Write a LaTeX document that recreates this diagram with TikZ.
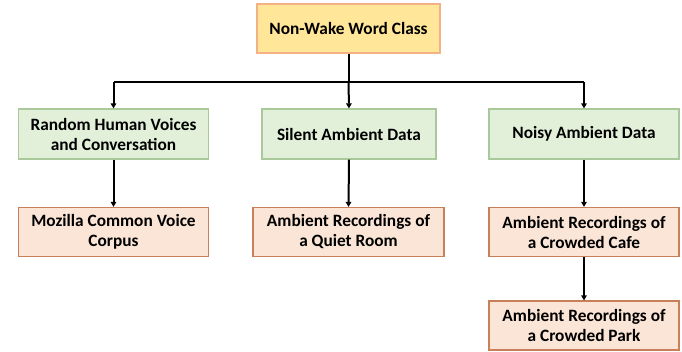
\documentclass[tikz,border=0pt]{standalone}
\usepackage{fontspec}
\setmainfont{Carlito}
\usetikzlibrary{arrows.meta}
\definecolor{topfill}{HTML}{FFE699}
\definecolor{topdraw}{HTML}{F4B183}
\definecolor{gfill}{HTML}{E2F0D9}
\definecolor{gdraw}{HTML}{A9C99A}
\definecolor{ofill}{HTML}{FBE5D6}
\definecolor{odraw}{HTML}{C9805A}
\begin{document}
\begin{tikzpicture}[x=1pt,y=-1pt,
  base/.style={rectangle, line width=1.2pt, align=center, inner sep=0pt,
    font=\fontsize{17.3}{20}\selectfont\bfseries, text=black},
  topbox/.style={base, fill=topfill, draw=topdraw, minimum width=183pt, minimum height=49pt},
  gbox/.style={base, fill=gfill, draw=gdraw, minimum height=50pt},
  obox/.style={base, fill=ofill, draw=odraw, minimum height=49pt},
  conn/.style={line width=2pt, black},
  arr/.style={conn, -{Triangle[length=5pt,width=5.5pt]}}]
\useasboundingbox (0,0) rectangle (682,352);
\node[topbox] (top) at (348.5,28.5) {Non-Wake Word Class};
\node[gbox, minimum width=190pt] (gL) at (113.5,134) {Random Human Voices\\and Conversation};
\node[gbox, minimum width=174pt] (gM) at (349,134) {Silent Ambient Data};
\node[gbox, minimum width=190pt] (gR) at (584,134) {Noisy Ambient Data};
\node[obox, minimum width=190pt] (oL) at (113.5,232) {Mozilla Common Voice\\Corpus};
\node[obox, minimum width=191pt] (oM) at (348.5,232) {Ambient Recordings of\\a Quiet Room};
\node[obox, minimum width=190pt] (oR) at (584,232) {Ambient Recordings of\\a Crowded Cafe};
\node[obox, minimum width=190pt] (oR2) at (584,325.5) {Ambient Recordings of\\a Crowded Park};
\coordinate (jL) at (gL.north |- 0,82);
\coordinate (jM) at (top.south |- 0,82);
\coordinate (jR) at (gR.north |- 0,82);
\draw[conn] (top.south) -- (jM);
\draw[conn] (jL) -- (jR);
\draw[arr] (jL) -- (gL.north);
\draw[arr] (jM) -- (gM.north);
\draw[arr] (jR) -- (gR.north);
\draw[arr] (gL.south) -- (oL.north);
\draw[arr] (gM.south) -- (oM.north);
\draw[arr] (gR.south) -- (oR.north);
\draw[arr] (oR.south) -- (oR2.north);
\end{tikzpicture}
\end{document}
